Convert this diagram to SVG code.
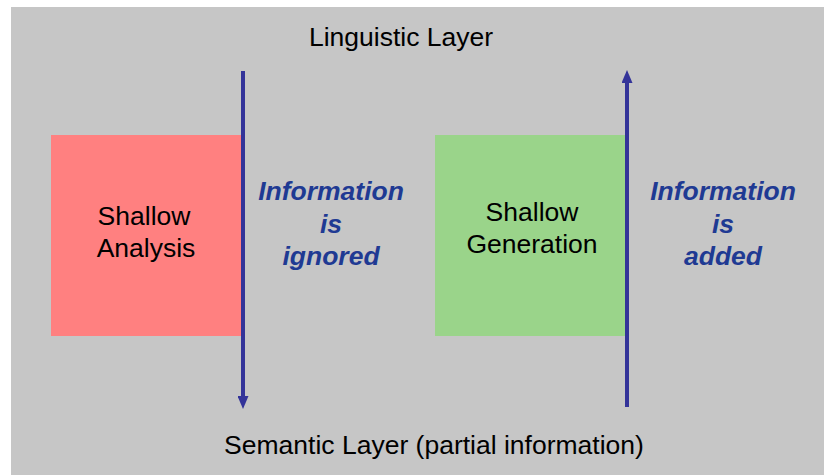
<svg xmlns="http://www.w3.org/2000/svg" width="824" height="475" viewBox="0 0 824 475">
<style>
.t{font-family:"Liberation Sans",Arial,sans-serif;font-size:26.5px;fill:#000;text-anchor:middle}
.b{font-family:"Liberation Sans",Arial,sans-serif;font-size:26.5px;font-weight:bold;font-style:italic;fill:#1F3A93;text-anchor:middle}
.ln{stroke:#333399;stroke-width:4;fill:none}
</style>
<defs>
<marker id="ah" viewBox="0 0 13 11" refX="0" refY="5.5" markerUnits="userSpaceOnUse" markerWidth="13" markerHeight="11" orient="auto">
<path d="M0,0 L13,5.5 L0,11 Z" fill="#333399"/>
</marker>
</defs>
<rect x="11" y="7" width="813" height="468" fill="#C6C6C6"/>
<text class="t" x="401" y="46">Linguistic Layer</text>
<text class="t" x="434" y="454">Semantic Layer (partial information)</text>
<g id="analysis">
<rect x="51" y="135" width="191" height="201" fill="#FF8080"/>
<text class="t" x="144" y="225">Shallow</text>
<text class="t" x="146" y="257">Analysis</text>
</g>
<g id="generation">
<rect x="435" y="135" width="191" height="201" fill="#9AD48A"/>
<text class="t" x="532" y="221">Shallow</text>
<text class="t" x="532" y="253">Generation</text>
</g>
<g id="connectors">
<line class="ln" x1="243" y1="71" x2="243" y2="396" marker-end="url(#ah)"/>
<line class="ln" x1="627" y1="407" x2="627" y2="83" marker-end="url(#ah)"/>
</g>
<g id="label-ignored">
<text class="b" x="331" y="200">Information</text>
<text class="b" x="331" y="233">is</text>
<text class="b" x="331" y="265">ignored</text>
</g>
<g id="label-added">
<text class="b" x="723" y="200">Information</text>
<text class="b" x="723" y="233">is</text>
<text class="b" x="723" y="265">added</text>
</g>
</svg>
